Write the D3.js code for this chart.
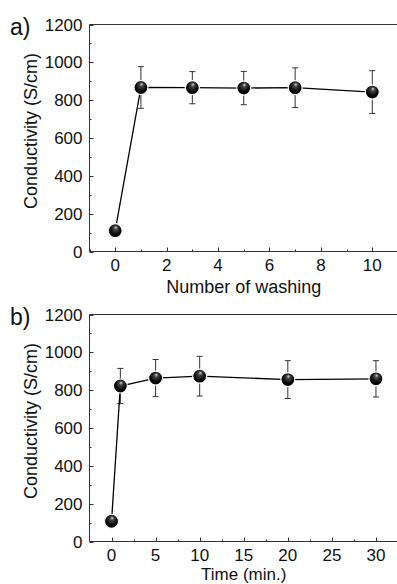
<!DOCTYPE html>
<html>
<head>
<meta charset="utf-8">
<script src="https://cdn.jsdelivr.net/npm/d3@7"></script>
<style>
  html, body { margin: 0; padding: 0; background: #fff; }
  svg { display: block; font-family: "Liberation Sans", Arial, sans-serif; }
</style>
</head>
<body>
<svg id="chart" width="397" height="584"></svg>
<script>
// panel a: conductivity vs number of washing
const washCount = [0, 1, 3, 5, 7, 10];
const washValue = [110, 867, 866, 864, 866, 843];
const washError = [0, 110, 85, 88, 105, 113];

// panel b: conductivity vs time
const timeMin = [0, 1, 5, 10, 20, 30];
const timeValue = [107, 822, 864, 874, 856, 860];
const timeError = [0, 93, 98, 105, 100, 96];

const yTicks = [0, 200, 400, 600, 800, 1000, 1200];
const washTicks = [0, 2, 4, 6, 8, 10];
const timeTicks = [0, 5, 10, 15, 20, 25, 30];

const svg = d3.select('#chart');

const grad = svg.append('defs').append('radialGradient')
    .attr('id', 'ball')
    .attr('cx', '50%').attr('cy', '45%').attr('r', '55%')
    .attr('fx', '55%').attr('fy', '25%');
grad.append('stop').attr('offset', '0%').attr('stop-color', '#d8d8d8');
grad.append('stop').attr('offset', '25%').attr('stop-color', '#444');
grad.append('stop').attr('offset', '70%').attr('stop-color', '#050505');
grad.append('stop').attr('offset', '100%').attr('stop-color', '#000');

function drawPanel (opt) {

    const {top, bottom, left, right, xDomain, xTicks, xMinor, xs, ys, es, label, xTitle, titleGap, titleSize} = opt;

    const g = svg.append('g');

    const x = d3.scaleLinear().domain(xDomain).range([left, right]);
    const y = d3.scaleLinear().domain([0, 1200]).range([bottom, top]);

    const axisColor = '#333';

    // box lines
    g.append('path')
        .attr('d', `M${right},${top} H${left} V${bottom} H${right} V${top}`)
        .attr('fill', 'none')
        .attr('stroke', axisColor)
        .attr('stroke-width', 1);

    // y ticks (inward)
    const yMinor = d3.range(100, 1200, 200);
    g.selectAll('.ymaj').data(yTicks).join('line')
        .attr('x1', left).attr('x2', left + 4)
        .attr('y1', d => Math.round(y(d)) + 0.5).attr('y2', d => Math.round(y(d)) + 0.5)
        .attr('stroke', axisColor);
    g.selectAll('.ymin').data(yMinor).join('line')
        .attr('x1', left).attr('x2', left + 2)
        .attr('y1', d => Math.round(y(d)) + 0.5).attr('y2', d => Math.round(y(d)) + 0.5)
        .attr('stroke', axisColor);
    g.selectAll('.ylab').data(yTicks).join('text')
        .attr('x', left - 7)
        .attr('y', d => y(d) + 6)
        .attr('text-anchor', 'end')
        .attr('font-size', 17)
        .attr('fill', '#111')
        .text(d => d);

    // x ticks (inward)
    g.selectAll('.xmaj').data(xTicks).join('line')
        .attr('x1', d => Math.round(x(d)) + 0.5).attr('x2', d => Math.round(x(d)) + 0.5)
        .attr('y1', bottom).attr('y2', bottom - 4)
        .attr('stroke', axisColor);
    g.selectAll('.xmin').data(xMinor).join('line')
        .attr('x1', d => Math.round(x(d)) + 0.5).attr('x2', d => Math.round(x(d)) + 0.5)
        .attr('y1', bottom).attr('y2', bottom - 2)
        .attr('stroke', axisColor);
    g.selectAll('.xlab').data(xTicks).join('text')
        .attr('x', d => x(d))
        .attr('y', bottom + 19)
        .attr('text-anchor', 'middle')
        .attr('font-size', 17)
        .attr('fill', '#111')
        .text(d => d);

    // titles
    g.append('text')
        .attr('x', (left + right) / 2)
        .attr('y', bottom + titleGap)
        .attr('text-anchor', 'middle')
        .attr('font-size', titleSize)
        .attr('fill', '#111')
        .text(xTitle);

    g.append('text')
        .attr('transform', `translate(${37},${(top + bottom) / 2 - 7}) rotate(-90)`)
        .attr('text-anchor', 'middle')
        .attr('font-size', 18)
        .attr('fill', '#111')
        .text('Conductivity (S/cm)');

    g.append('text')
        .attr('x', 10)
        .attr('y', top + 10)
        .attr('font-size', 23)
        .attr('fill', '#111')
        .text(label);

    const pts = xs.map((d, i) => ({x: d, y: ys[i], e: es[i]}));

    // error bars
    const eb = g.selectAll('.eb').data(pts.filter(d => d.e > 0)).join('g');
    eb.append('line')
        .attr('x1', d => x(d.x)).attr('x2', d => x(d.x))
        .attr('y1', d => y(d.y - d.e)).attr('y2', d => y(d.y + d.e))
        .attr('stroke', '#333').attr('stroke-width', 1);
    eb.append('line')
        .attr('x1', d => x(d.x) - 3).attr('x2', d => x(d.x) + 3)
        .attr('y1', d => y(d.y + d.e)).attr('y2', d => y(d.y + d.e))
        .attr('stroke', '#333').attr('stroke-width', 1);
    eb.append('line')
        .attr('x1', d => x(d.x) - 3).attr('x2', d => x(d.x) + 3)
        .attr('y1', d => y(d.y - d.e)).attr('y2', d => y(d.y - d.e))
        .attr('stroke', '#333').attr('stroke-width', 1);

    // connecting line
    g.append('path')
        .datum(pts)
        .attr('d', d3.line().x(d => x(d.x)).y(d => y(d.y)))
        .attr('fill', 'none')
        .attr('stroke', '#000')
        .attr('stroke-width', 1.3);

    // ball markers
    g.selectAll('.pt').data(pts).join('circle')
        .attr('cx', d => x(d.x))
        .attr('cy', d => y(d.y))
        .attr('r', 7)
        .attr('fill', 'url(#ball)')
        .attr('stroke', '#fff')
        .attr('stroke-width', 1.2);
}

drawPanel({
    top: 24.5, bottom: 251.5, left: 89.5, right: 398,
    xDomain: [-1, 11],
    xTicks: washTicks,
    xMinor: [-1, 1, 3, 5, 7, 9, 11],
    xs: washCount, ys: washValue, es: washError,
    label: 'a)',
    xTitle: 'Number of washing',
    titleGap: 41,
    titleSize: 18
});

drawPanel({
    top: 314.5, bottom: 541.5, left: 89.5, right: 398,
    xDomain: [-2.5, 32.5],
    xTicks: timeTicks,
    xMinor: [2.5, 7.5, 12.5, 17.5, 22.5, 27.5],
    xs: timeMin, ys: timeValue, es: timeError,
    label: 'b)',
    xTitle: 'Time (min.)',
    titleGap: 38.5,
    titleSize: 17
});
</script>
</body>
</html>
